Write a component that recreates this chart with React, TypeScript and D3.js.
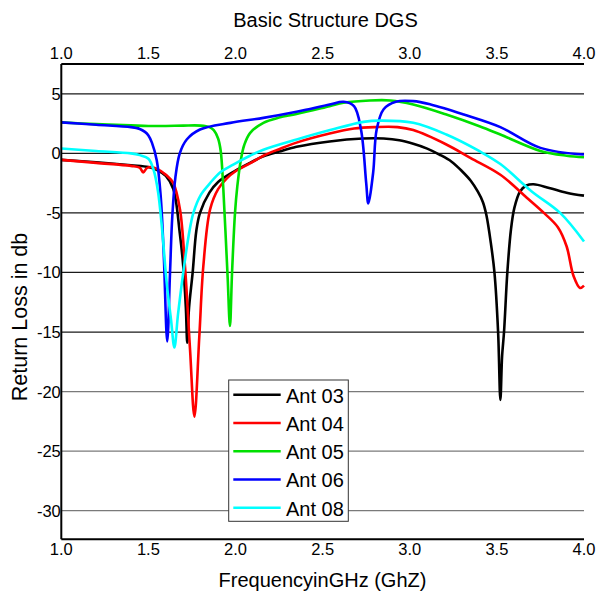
import * as d3 from "d3";
import { useEffect, useRef } from "react";

// frequency (GHz), return loss (dB)
const ant03: [number, number][] = [
  [1.0, -0.55], [1.2, -0.75], [1.4, -1.0], [1.5, -1.15], [1.55, -1.4], [1.6, -1.9],
  [1.643, -3.0], [1.68, -6.7], [1.7, -9.5], [1.715, -13], [1.723, -15.9], [1.733, -13],
  [1.754, -10], [1.775, -6.5], [1.796, -5], [1.85, -3.3], [1.9, -2.4], [2.0, -1.45],
  [2.083, -0.8], [2.16, -0.25], [2.25, 0.15], [2.35, 0.55], [2.54, 1.0], [2.73, 1.24],
  [2.85, 1.24], [2.94, 1.1], [3.02, 0.8], [3.1, 0.4], [3.17, -0.1], [3.24, -0.7],
  [3.3, -1.5], [3.35, -2.3], [3.39, -3.2], [3.42, -4.1], [3.44, -5.2], [3.465, -7.5],
  [3.486, -10], [3.507, -15], [3.52, -20.7], [3.53, -17], [3.541, -15], [3.56, -10],
  [3.58, -6.5], [3.6, -4.6], [3.633, -3.2], [3.67, -2.7], [3.71, -2.6], [3.8, -2.9],
  [3.9, -3.3], [4.0, -3.55],
];

const ant04: [number, number][] = [
  [1.0, -0.55], [1.2, -0.8], [1.4, -1.05], [1.45, -1.2], [1.47, -1.6], [1.49, -1.25],
  [1.51, -1.15], [1.55, -1.3], [1.6, -1.8], [1.643, -2.5], [1.681, -4.7], [1.71, -9.5],
  [1.739, -16.5], [1.764, -22.1], [1.792, -15.4], [1.815, -9.5], [1.854, -4.7],
  [1.9, -3.0], [1.95, -2.1], [2.0, -1.5], [2.083, -0.85], [2.16, -0.2], [2.25, 0.35],
  [2.35, 0.9], [2.54, 1.66], [2.68, 2.08], [2.8, 2.2], [2.93, 2.2], [3.02, 1.95],
  [3.21, 0.74], [3.35, -0.4], [3.52, -1.8], [3.67, -3.7], [3.77, -5], [3.85, -6.2],
  [3.9, -7.8], [3.94, -10.3], [3.977, -11.3], [4.0, -11.1],
];

const ant05: [number, number][] = [
  [1.0, 2.6], [1.2, 2.45], [1.4, 2.35], [1.5, 2.3], [1.6, 2.3], [1.7, 2.33], [1.8, 2.33],
  [1.85, 2.2], [1.875, 1.95], [1.9, 1.25], [1.915, 0.2], [1.93, -3], [1.942, -6.5],
  [1.955, -10.5], [1.968, -14.5], [1.98, -10], [1.997, -5], [2.01, -2.8], [2.03, -0.6],
  [2.05, 0.7], [2.083, 1.7], [2.16, 2.56], [2.25, 3.0], [2.35, 3.3], [2.54, 3.96],
  [2.62, 4.24], [2.77, 4.44], [2.89, 4.44], [3.02, 4.1], [3.21, 3.26], [3.4, 2.28],
  [3.52, 1.58], [3.75, 0.2], [3.9, -0.2], [4.0, -0.33],
];

const ant06: [number, number][] = [
  [1.0, 2.6], [1.2, 2.4], [1.4, 2.2], [1.45, 2.05], [1.48, 1.8], [1.5, 1.5], [1.52, 0.9],
  [1.548, -0.6], [1.57, -3.5], [1.588, -8.5], [1.608, -15.8], [1.624, -10], [1.637, -5.3],
  [1.655, -2.0], [1.68, 0], [1.72, 1.16], [1.796, 2.0], [1.97, 2.56], [2.16, 2.98],
  [2.35, 3.49], [2.54, 4.1], [2.62, 4.33], [2.68, 3.96], [2.72, 2.0], [2.75, -2.5],
  [2.762, -4.2], [2.79, -1.6], [2.81, 2.0], [2.85, 3.7], [2.92, 4.33], [3.02, 4.38],
  [3.12, 4.1], [3.31, 3.26], [3.52, 2.2], [3.75, 0.46], [4.0, -0.1],
];

const ant08: [number, number][] = [
  [1.0, 0.4], [1.2, 0.2], [1.4, 0.0], [1.45, -0.15], [1.5, -0.45], [1.53, -1.4],
  [1.555, -3.2], [1.578, -6.3], [1.605, -10.9], [1.63, -14], [1.649, -16.3], [1.67, -13.5],
  [1.7, -10], [1.73, -7], [1.758, -5], [1.8, -3.5], [1.854, -2.5], [1.911, -1.6],
  [1.987, -0.94], [2.083, -0.2], [2.16, 0.3], [2.351, 1.16], [2.543, 1.95], [2.734, 2.64],
  [2.83, 2.75], [3.02, 2.56], [3.21, 1.58], [3.4, 0.18], [3.52, -0.9], [3.7, -3.2],
  [3.863, -5], [4.0, -7.4],
];

const seriesNames = ["Ant 03", "Ant 04", "Ant 05", "Ant 06", "Ant 08"];
const seriesData = [ant03, ant04, ant05, ant06, ant08];
const seriesColors = ["#000000", "#ff0000", "#00e000", "#0000ff", "#00ffff"];

const xTicks = [1.0, 1.5, 2.0, 2.5, 3.0, 3.5, 4.0];
const yTicks = [5, 0, -5, -10, -15, -20, -25, -30];

const FONT = "'Liberation Sans', Arial, sans-serif";

const App = () => {
  const chartRef = useRef<SVGSVGElement | null>(null);

  const width = 597;
  const height = 592;
  const margin = { top: 64, bottom: 52.7, left: 61.3, right: 13 };

  useEffect(() => {
    const svg = d3.select(chartRef.current);
    svg.selectAll("*").remove();

    const x = d3.scaleLinear().domain([1, 4]).range([margin.left, width - margin.right]);
    const y = d3.scaleLinear().domain([-32.4, 7.5]).range([height - margin.bottom, margin.top]);

    svg.append("rect").attr("width", width).attr("height", height).attr("fill", "#fff");

    // horizontal grid
    svg.append("g")
      .selectAll("line")
      .data(yTicks)
      .enter()
      .append("line")
      .attr("x1", x(1))
      .attr("x2", x(4))
      .attr("y1", (d) => y(d))
      .attr("y2", (d) => y(d))
      .attr("stroke", (d) => (d <= -20 ? "#7a7a7a" : "#1a1a1a"))
      .attr("stroke-width", 1.2);

    // curves
    const line = d3.line<[number, number]>()
      .x((d) => x(d[0]))
      .y((d) => y(d[1]))
      .curve(d3.curveCatmullRom.alpha(0.5));

    seriesData.forEach((s, i) => {
      svg.append("path")
        .attr("d", line(s))
        .attr("fill", "none")
        .attr("stroke", seriesColors[i])
        .attr("stroke-width", 2.6)
        .attr("stroke-linejoin", "round");
    });

    // axis lines: left, top, bottom
    const axisG = svg.append("g").attr("stroke", "#000").attr("stroke-width", 2);
    axisG.append("line").attr("x1", x(1)).attr("x2", x(1)).attr("y1", y(7.5)).attr("y2", y(-32.4));
    axisG.append("line").attr("x1", x(1)).attr("x2", x(4)).attr("y1", y(7.5)).attr("y2", y(7.5));
    axisG.append("line").attr("x1", x(1)).attr("x2", x(4)).attr("y1", y(-32.4)).attr("y2", y(-32.4));

    // tick labels
    const tickFont = 16.5;
    svg.append("g")
      .selectAll("text")
      .data(xTicks)
      .enter()
      .append("text")
      .attr("x", (d) => x(d))
      .attr("y", 59.3)
      .attr("text-anchor", "middle")
      .style("font-family", FONT)
      .style("font-size", tickFont + "px")
      .text((d) => d.toFixed(1));

    svg.append("g")
      .selectAll("text")
      .data(xTicks)
      .enter()
      .append("text")
      .attr("x", (d) => x(d))
      .attr("y", 555)
      .attr("text-anchor", "middle")
      .style("font-family", FONT)
      .style("font-size", tickFont + "px")
      .text((d) => d.toFixed(1));

    svg.append("g")
      .selectAll("text")
      .data(yTicks)
      .enter()
      .append("text")
      .attr("x", x(1) - 0.5)
      .attr("y", (d) => y(d))
      .attr("dy", "0.36em")
      .attr("text-anchor", "end")
      .style("font-family", FONT)
      .style("font-size", tickFont + "px")
      .text((d) => String(d));

    // titles
    svg.append("text")
      .attr("x", 325.5)
      .attr("y", 27)
      .attr("text-anchor", "middle")
      .style("font-family", FONT)
      .style("font-size", "20px")
      .text("Basic Structure DGS");

    svg.append("text")
      .attr("x", 322.5)
      .attr("y", 587)
      .attr("text-anchor", "middle")
      .style("font-family", FONT)
      .style("font-size", "20px")
      .text("FrequencyinGHz (GhZ)");

    svg.append("text")
      .attr("transform", "translate(27,317) rotate(-90)")
      .attr("text-anchor", "middle")
      .style("font-family", FONT)
      .style("font-size", "21.5px")
      .text("Return Loss in db");

    // legend
    const lg = svg.append("g").attr("transform", "translate(228.7,380)");
    lg.append("rect")
      .attr("width", 119.6)
      .attr("height", 141.3)
      .attr("fill", "#fff")
      .attr("stroke", "#333")
      .attr("stroke-width", 1);

    seriesNames.forEach((name, i) => {
      const cy = 14.7 + i * 28.25;
      lg.append("line")
        .attr("x1", 4.6)
        .attr("x2", 52)
        .attr("y1", cy)
        .attr("y2", cy)
        .attr("stroke", seriesColors[i])
        .attr("stroke-width", 2.6);
      lg.append("text")
        .attr("x", 57.3)
        .attr("y", cy + 8)
        .style("font-family", FONT)
        .style("font-size", "20px")
        .text(name);
    });
  }, []);

  return (
    <svg
      ref={chartRef}
      width={width}
      height={height}
      style={{ position: "absolute", left: 0, top: 0 }}
    ></svg>
  );
};

export default App;
